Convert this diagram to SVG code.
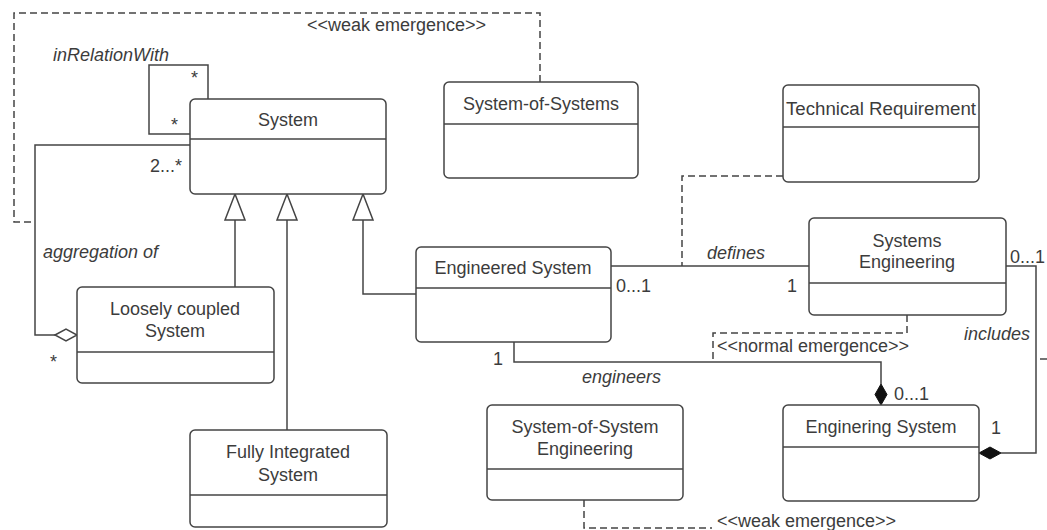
<svg xmlns="http://www.w3.org/2000/svg" width="1047" height="530" viewBox="0 0 1047 530">
<style>
.box{fill:#fff;stroke:#444;stroke-width:1.5}
.div{stroke:#444;stroke-width:1.5}
.t{font-family:"Liberation Sans",Arial,sans-serif;font-size:18px;fill:#3c3c3c;text-anchor:middle}
.l{font-family:"Liberation Sans",Arial,sans-serif;font-size:18px;fill:#3c3c3c}
.i{font-style:italic}
.ln{fill:none;stroke:#444;stroke-width:1.5}
.dash{fill:none;stroke:#444;stroke-width:1.5;stroke-dasharray:7,4}
.tri{fill:#fff;stroke:#444;stroke-width:1.5}
.hd{fill:#fff;stroke:#444;stroke-width:1.5}
.fd{fill:#111;stroke:#111;stroke-width:1}
</style>
<rect width="1047" height="530" fill="#fff"/>
<g id="connectors">
<path class="dash" d="M540,82 V13 H14 V222 H35"/>
<path class="ln" d="M190,134 H149 V65 H208 V99"/>
<path class="ln" d="M190,145 H35 V335 H55"/>
<path class="hd" d="M55,335 L66,329 L77,335 L66,341 Z"/>
<path class="ln" d="M235,220 V287"/>
<path class="ln" d="M287,220 V430"/>
<path class="ln" d="M363,220 V294 H416"/>
<path class="tri" d="M235,194 L245,220 L225,220 Z"/>
<path class="tri" d="M287,194 L297,220 L277,220 Z"/>
<path class="tri" d="M363,194 L373,220 L353,220 Z"/>
<path class="ln" d="M611,266 H809"/>
<path class="dash" d="M783,176 H682 V266"/>
<path class="ln" d="M1006,266 H1036 V453 H1001"/>
<path class="fd" d="M979,453 L990,447 L1001,453 L990,459 Z"/>
<path class="ln" d="M1040,359 H1047"/>
<path class="ln" d="M514,342 V362 H881 V384"/>
<path class="fd" d="M881,384 L887,394.5 L881,405 L875,394.5 Z"/>
<path class="dash" d="M907,315 V333 H713 V362"/>
<path class="dash" d="M584,500 V528 H712"/>
</g>
<g id="labels">
<text class="l i" x="53" y="61">inRelationWith</text>
<text class="l" x="191" y="84" font-size="13">*</text>
<text class="l" x="171" y="131" font-size="13">*</text>
<text class="l" x="150" y="172">2...*</text>
<text class="l i" x="43" y="258">aggregation of</text>
<text class="l" x="50" y="368" font-size="13">*</text>
<text class="l" x="307" y="31">&lt;&lt;weak emergence&gt;&gt;</text>
<text class="l i" x="707" y="259">defines</text>
<text class="l" x="616" y="292">0...1</text>
<text class="l" x="787" y="292">1</text>
<text class="l" x="1010" y="263">0...1</text>
<text class="l i" x="964" y="340">includes</text>
<text class="l" x="493" y="365">1</text>
<text class="l i" x="582" y="383">engineers</text>
<text class="l" x="717" y="352">&lt;&lt;normal emergence&gt;&gt;</text>
<text class="l" x="894" y="400">0...1</text>
<text class="l" x="991" y="434">1</text>
<text class="l" x="717" y="527">&lt;&lt;weak emergence&gt;&gt;</text>
</g>
<g id="system">
<rect class="box" x="190" y="99" width="196" height="95" rx="5"/>
<line class="div" x1="190" y1="139" x2="386" y2="139"/>
<text class="t" x="288" y="126">System</text>
</g>
<g id="system-of-systems">
<rect class="box" x="444" y="82" width="194" height="96" rx="5"/>
<line class="div" x1="444" y1="124" x2="638" y2="124"/>
<text class="t" x="541" y="110">System-of-Systems</text>
</g>
<g id="technical-requirement">
<rect class="box" x="783" y="85" width="196" height="97" rx="5"/>
<line class="div" x1="783" y1="127" x2="979" y2="127"/>
<text class="t" x="881" y="115" textLength="190" lengthAdjust="spacingAndGlyphs">Technical Requirement</text>
</g>
<g id="loosely-coupled-system">
<rect class="box" x="77" y="287" width="197" height="96" rx="5"/>
<line class="div" x1="77" y1="352" x2="274" y2="352"/>
<text class="t" x="175" y="315">Loosely coupled</text>
<text class="t" x="175" y="337">System</text>
</g>
<g id="fully-integrated-system">
<rect class="box" x="190" y="430" width="197" height="97" rx="5"/>
<line class="div" x1="190" y1="495" x2="387" y2="495"/>
<text class="t" x="288" y="458">Fully Integrated</text>
<text class="t" x="288" y="481">System</text>
</g>
<g id="engineered-system">
<rect class="box" x="416" y="247" width="195" height="95" rx="5"/>
<line class="div" x1="416" y1="288" x2="611" y2="288"/>
<text class="t" x="513" y="274">Engineered System</text>
</g>
<g id="systems-engineering">
<rect class="box" x="809" y="218" width="197" height="97" rx="5"/>
<line class="div" x1="809" y1="283" x2="1006" y2="283"/>
<text class="t" x="907" y="247">Systems</text>
<text class="t" x="907" y="268">Engineering</text>
</g>
<g id="system-of-system-engineering">
<rect class="box" x="487" y="405" width="196" height="95" rx="5"/>
<line class="div" x1="487" y1="469" x2="683" y2="469"/>
<text class="t" x="585" y="433">System-of-System</text>
<text class="t" x="585" y="455">Engineering</text>
</g>
<g id="enginering-system">
<rect class="box" x="783" y="405" width="196" height="96" rx="5"/>
<line class="div" x1="783" y1="447" x2="979" y2="447"/>
<text class="t" x="881" y="433">Enginering System</text>
</g>
</svg>
